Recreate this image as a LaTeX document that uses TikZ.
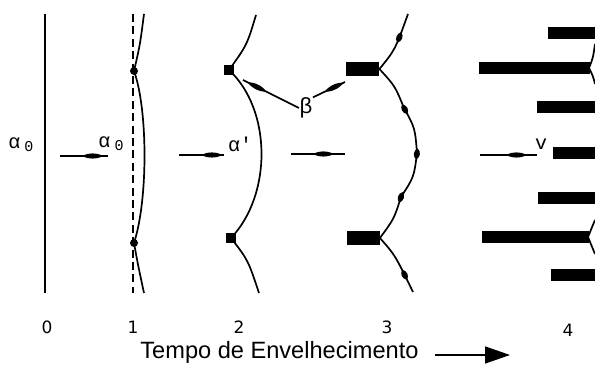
\documentclass[tikz,border=0pt]{standalone}
\usepackage{fontspec}
\setmainfont{Liberation Sans}
\newfontfamily\greekfont{Liberation Mono}
\newfontfamily\digitfont{DejaVu Sans}
\usepackage{tikz}
\usetikzlibrary{arrows.meta}
\usetikzlibrary{decorations.markings}

\tikzset{
  boundary/.style={line width=0.85pt},
  spindle/.style={postaction={decorate,decoration={markings,mark=at position #1 with {\fill (-5pt,0) .. controls (-2.5pt,1.7pt) and (2.5pt,1.7pt) .. (5pt,0) .. controls (2.5pt,-1.7pt) and (-2.5pt,-1.7pt) .. cycle;}}}},
  bead/.style={postaction={decorate,decoration={markings,mark=at position #1 with {\fill (-2.8pt,0) .. controls (-1.4pt,2pt) and (1.4pt,2pt) .. (2.8pt,0) .. controls (1.4pt,-2pt) and (-1.4pt,-2pt) .. cycle;}}}},
  knot/.style={circle, fill, inner sep=0pt, minimum size=4pt},
  corner/.style={rectangle, fill, inner sep=0pt, minimum size=4.8pt},
  plate/.style={rectangle, fill, inner sep=0pt, minimum width=16.5pt, minimum height=6.6pt},
  phase/.style={font=\greekfont\fontsize{10}{11}\selectfont, inner sep=0pt},
  stage/.style={font=\digitfont\fontsize{8.5}{10}\selectfont},
}

\newcommand{\subzero}{\hspace{2pt}\raisebox{-1.5pt}{\fontsize{7.5}{7.5}\selectfont 0}}

\begin{document}
\begin{tikzpicture}[x=0.5pt, y=-0.5pt]
\useasboundingbox (0,0) rectangle (595,367);

% 0: flat boundary
\draw[boundary] (45,14) -- (45,293);
\node[phase] (a0) at (21,145) {α\subzero};

\coordinate (r0s) at (60,156);
\coordinate (r0e) at (108,156);
\draw[boundary, spindle=0.68] (r0s) -- (r0e);

% 1: boundary starts to bow between two particles
\node[phase] (a1) at (111,144) {α\subzero};
\draw[boundary, dash pattern=on 4pt off 2.2pt] (133,14) -- (133,293);
\node[knot] (k1) at (134,71) {};
\node[knot] (k2) at (134,243) {};
\draw[boundary] (144,14) .. controls (140,45) .. (k1.center)
  .. controls (148,110) and (148,200) .. (k2.center)
  .. controls (138,265) .. (144,293);

\coordinate (r1s) at (179,155);
\coordinate (r1e) at (224,155);
\draw[boundary, spindle=0.73] (r1s) -- (r1e);

% 2: beta nuclei on the boundary
\node[phase] (a2) at (240,144) {α'};
\node[corner] (s1) at (229,70) {};
\node[corner] (s2) at (231,238) {};
\draw[boundary] (256,15) .. controls (247,45) .. (s1.center)
  .. controls (272,110) and (272,195) .. (s2.center)
  .. controls (248,260) .. (259,293);

\node[phase, font=\greekfont\fontsize{11}{12}\selectfont] (beta) at (306,108) {β};
\coordinate (bl) at (243,80);
\coordinate (br) at (345,82);
\draw[boundary, spindle=0.75] (beta.west) -- (bl);
\draw[boundary, spindle=0.66] (beta.north east) -- (br);

\coordinate (r2s) at (291,154);
\coordinate (r2e) at (345,154);
\draw[boundary, spindle=0.6] (r2s) -- (r2e);

% 3: plates thicken, boundary pinned by small particles
\node[plate] (p1) at (362.5,69) {};
\node[plate] (p2) at (363,238) {};
\draw[boundary, bead=0.6] (p1.east) .. controls (395,50) .. (408,14);
\draw[boundary, bead=0.255, bead=0.505, bead=0.755] (p1.east)
  .. controls (395,86) .. (404,108)
  .. controls (415,128) .. (417,153)
  .. controls (414,177) .. (401,197)
  .. controls (394,219) .. (p2.east);
\draw[boundary, bead=0.7] (p2.east) .. controls (395,255) .. (413,292);

\coordinate (r3s) at (480,155);
\coordinate (r3e) at (537,155);
\draw[boundary, spindle=0.64] (r3s) -- (r3e);

% 4: lamellae
\node[phase] (vv) at (541,144) {v};
\fill (548,26.7) rectangle (595,39.3);
\fill (479,61.7) rectangle (590,74.3);
\fill (537,100.7) rectangle (595,113.3);
\fill (553,146.7) rectangle (595,159.3);
\fill (538,191.7) rectangle (595,204.3);
\fill (482,230.7) rectangle (589,243.3);
\fill (551,268.7) rectangle (595,281.3);
\draw[boundary] (589,68) .. controls (593,58) .. (595,44);
\draw[boundary] (589,68) .. controls (593,76) .. (595,84);
\draw[boundary] (588,237) .. controls (592,228) .. (595,220);
\draw[boundary] (588,237) .. controls (592,245) .. (595,254);

% stage numbers
\node[stage] (n0) at (47,327) {0};
\node[stage] (n1) at (133,327) {1};
\node[stage] (n2) at (239,327) {2};
\node[stage] (n3) at (387,327) {3};
\node[stage] (n4) at (568,330) {4};

% time axis
\node[anchor=base west, inner sep=0pt, font=\fontsize{11.8}{14}\selectfont] (time) at (140,359) {Tempo de Envelhecimento};
\coordinate (tStart) at ([xshift=8pt]time.east);
\coordinate (tEnd) at (510,355);
\draw[line width=0.75pt, -{Triangle[length=12.5pt,width=8.5pt]}] (tStart |- tEnd) -- (tEnd);

\end{tikzpicture}
\end{document}
